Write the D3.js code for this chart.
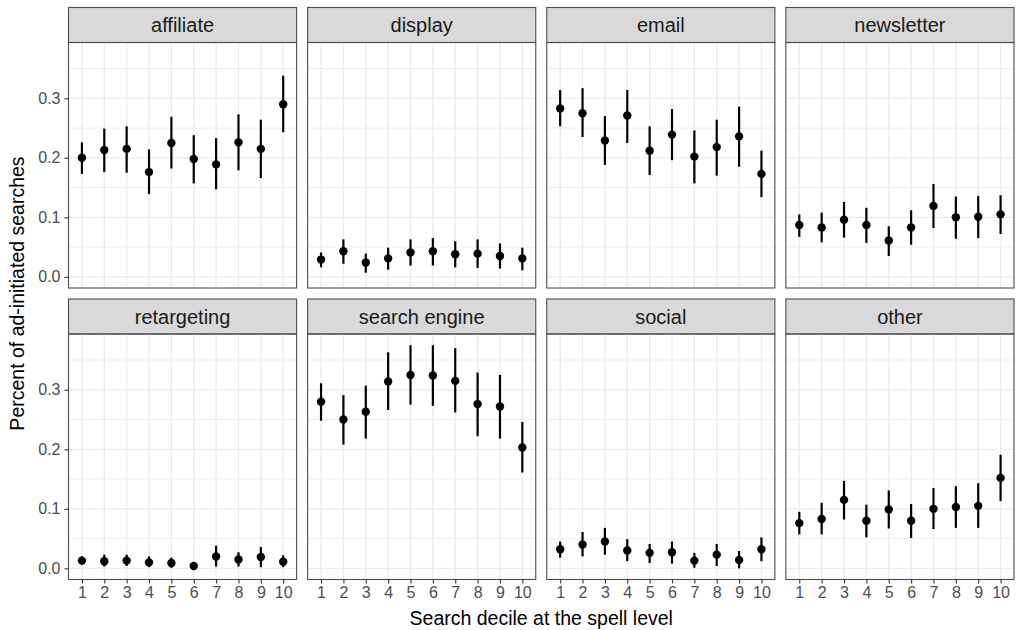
<!DOCTYPE html>
<html lang="en">
<head>
    <meta charset="UTF-8">
    <title>Ad-initiated searches by search decile</title>
    <script src="https://d3js.org/d3.v7.min.js"></script>
    <style>
        body { margin: 0; background: #fff; }
        text { font-family: "Liberation Sans", Arial, Helvetica, sans-serif; }
        .grid-major { stroke: #EBEBEB; stroke-width: 1.3; }
        .grid-minor { stroke: #EBEBEB; stroke-width: 0.8; }
        .tick-label { fill: #4D4D4D; font-size: 16px; }
        .strip-label { fill: #1A1A1A; font-size: 20px; }
        .axis-title { fill: #000; font-size: 19.5px; }
    </style>
</head>
<body>
    <svg width="1016" height="630"></svg>
    <script>
        const channels = ["affiliate", "display", "email", "newsletter",
                          "retargeting", "search engine", "social", "other"];
        const deciles = ["1", "2", "3", "4", "5", "6", "7", "8", "9", "10"];
        const yTicks = [0.0, 0.1, 0.2, 0.3];
        const yMinor = [0.05, 0.15, 0.25, 0.35];

        // point estimates, one row per channel (same order as channels)
        const estimates = [
            [0.200, 0.213, 0.215, 0.176, 0.225, 0.198, 0.189, 0.226, 0.215, 0.290],
            [0.029, 0.043, 0.024, 0.031, 0.041, 0.043, 0.038, 0.039, 0.035, 0.031],
            [0.283, 0.275, 0.229, 0.271, 0.212, 0.239, 0.202, 0.218, 0.236, 0.173],
            [0.087, 0.083, 0.096, 0.087, 0.061, 0.083, 0.119, 0.100, 0.101, 0.105],
            [0.013, 0.012, 0.013, 0.010, 0.009, 0.004, 0.020, 0.015, 0.019, 0.011],
            [0.280, 0.250, 0.263, 0.314, 0.325, 0.324, 0.315, 0.276, 0.272, 0.203],
            [0.032, 0.040, 0.045, 0.030, 0.026, 0.027, 0.013, 0.023, 0.014, 0.032],
            [0.076, 0.083, 0.115, 0.080, 0.099, 0.080, 0.100, 0.103, 0.105, 0.152]
        ];
        // lower and upper ends of the error bars
        const lowers = [
            [0.173, 0.176, 0.175, 0.139, 0.182, 0.157, 0.147, 0.179, 0.166, 0.243],
            [0.016, 0.022, 0.007, 0.012, 0.019, 0.019, 0.016, 0.015, 0.014, 0.011],
            [0.253, 0.235, 0.188, 0.225, 0.171, 0.196, 0.157, 0.170, 0.185, 0.134],
            [0.067, 0.058, 0.066, 0.057, 0.035, 0.054, 0.082, 0.064, 0.065, 0.072],
            [0.006, 0.003, 0.004, 0.002, 0.001, 0.000, 0.003, 0.003, 0.002, 0.002],
            [0.248, 0.208, 0.218, 0.266, 0.275, 0.273, 0.262, 0.222, 0.218, 0.161],
            [0.018, 0.020, 0.023, 0.012, 0.009, 0.008, 0.001, 0.004, 0.000, 0.012],
            [0.057, 0.057, 0.082, 0.052, 0.067, 0.051, 0.066, 0.068, 0.068, 0.113]
        ];
        const uppers = [
            [0.226, 0.249, 0.253, 0.214, 0.269, 0.238, 0.233, 0.273, 0.264, 0.338],
            [0.041, 0.063, 0.039, 0.049, 0.063, 0.065, 0.060, 0.063, 0.056, 0.049],
            [0.314, 0.317, 0.270, 0.314, 0.253, 0.282, 0.246, 0.264, 0.286, 0.212],
            [0.105, 0.108, 0.126, 0.116, 0.085, 0.112, 0.156, 0.135, 0.136, 0.137],
            [0.020, 0.023, 0.023, 0.020, 0.018, 0.010, 0.038, 0.027, 0.036, 0.022],
            [0.311, 0.291, 0.307, 0.363, 0.375, 0.375, 0.370, 0.329, 0.325, 0.246],
            [0.045, 0.061, 0.068, 0.049, 0.041, 0.045, 0.026, 0.041, 0.029, 0.052],
            [0.095, 0.110, 0.147, 0.107, 0.131, 0.108, 0.135, 0.138, 0.143, 0.191]
        ];

        const svg = d3.select("svg");

        // facet layout (4 columns x 2 rows)
        const nCol = 4;
        const gridLeft = 68.5, gridRight = 1014, gridTop = 7.5;
        const gap = 11, stripH = 35, panelH = 245.5;
        const panelW = (gridRight - gridLeft - gap * (nCol - 1)) / nCol;

        // shared scales, ggplot-like 5% expansion on y
        const lo = d3.min(lowers.flat()), hi = d3.max(uppers.flat());
        const pad = (hi - lo) * 0.05;
        const y = d3.scaleLinear().domain([lo - pad, hi + pad]).range([panelH, 0]);
        const x = d3.scalePoint().domain(deciles).range([0, panelW]).padding(0.6);

        channels.forEach((name, k) => {
            const col = k % nCol, row = Math.floor(k / nCol);
            const px = gridLeft + col * (panelW + gap);
            const sy = gridTop + row * (stripH + panelH + gap);
            const g = svg.append("g").attr("transform", `translate(${px},${sy})`);

            // strip
            g.append("rect")
                .attr("width", panelW).attr("height", stripH)
                .attr("fill", "#D9D9D9").attr("stroke", "#4D4D4D").attr("stroke-width", 1.1);
            g.append("text")
                .attr("class", "strip-label")
                .attr("x", panelW / 2).attr("y", stripH / 2)
                .attr("text-anchor", "middle").attr("dy", "0.35em")
                .text(name);

            const p = g.append("g").attr("transform", `translate(0,${stripH})`);

            // grid
            p.selectAll(".grid-minor").data(yMinor).join("line")
                .attr("class", "grid-minor")
                .attr("x1", 0).attr("x2", panelW)
                .attr("y1", d => y(d)).attr("y2", d => y(d));
            p.selectAll(".grid-major.h").data(yTicks).join("line")
                .attr("class", "grid-major h")
                .attr("x1", 0).attr("x2", panelW)
                .attr("y1", d => y(d)).attr("y2", d => y(d));
            p.selectAll(".grid-major.v").data(deciles).join("line")
                .attr("class", "grid-major v")
                .attr("x1", d => x(d)).attr("x2", d => x(d))
                .attr("y1", 0).attr("y2", panelH);

            const rows = deciles.map((d, i) => ({
                d, est: estimates[k][i], lo: lowers[k][i], hi: uppers[k][i]
            }));

            // error bars and points
            p.selectAll(".err").data(rows).join("line")
                .attr("class", "err")
                .attr("x1", r => x(r.d)).attr("x2", r => x(r.d))
                .attr("y1", r => y(r.lo)).attr("y2", r => y(r.hi))
                .attr("stroke", "#000").attr("stroke-width", 2.2);
            p.selectAll(".pt").data(rows).join("circle")
                .attr("class", "pt")
                .attr("cx", r => x(r.d)).attr("cy", r => y(r.est))
                .attr("r", 4.2).attr("fill", "#000");

            // panel border
            p.append("rect")
                .attr("width", panelW).attr("height", panelH)
                .attr("fill", "none").attr("stroke", "#4D4D4D").attr("stroke-width", 1.1);

            // y axis on the first column
            if (col === 0) {
                const ya = p.append("g")
                    .call(d3.axisLeft(y).tickValues(yTicks).tickFormat(d3.format(".1f"))
                        .tickSize(4).tickPadding(4));
                ya.select(".domain").remove();
                ya.selectAll("line").attr("stroke", "#333").attr("stroke-width", 1.1);
                ya.selectAll("text").attr("class", "tick-label").attr("fill", null);
            }
            // x axis on the bottom row
            if (row === 1) {
                const xa = p.append("g").attr("transform", `translate(0,${panelH})`)
                    .call(d3.axisBottom(x).tickSize(4).tickPadding(3));
                xa.select(".domain").remove();
                xa.selectAll("line").attr("stroke", "#333").attr("stroke-width", 1.1);
                xa.selectAll("text").attr("class", "tick-label").attr("fill", null);
            }
        });

        // axis titles
        const plotBottom = gridTop + 2 * (stripH + panelH) + gap;
        svg.append("text")
            .attr("class", "axis-title")
            .attr("x", (gridLeft + gridRight) / 2).attr("y", 625)
            .attr("text-anchor", "middle")
            .text("Search decile at the spell level");
        svg.append("text")
            .attr("class", "axis-title")
            .attr("transform", `translate(24,${(gridTop + plotBottom) / 2}) rotate(-90)`)
            .attr("text-anchor", "middle")
            .text("Percent of ad-initiated searches");
    </script>
</body>
</html>
